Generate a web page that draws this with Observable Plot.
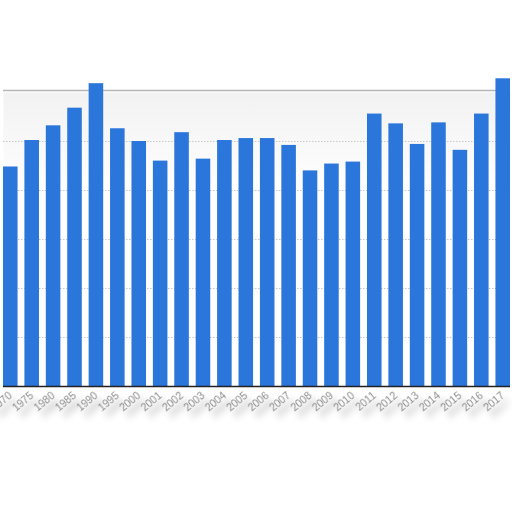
<!DOCTYPE html>
<html>
<head>
<meta charset="utf-8">
<script src="https://cdn.jsdelivr.net/npm/d3@7"></script>
<script src="https://cdn.jsdelivr.net/npm/@observablehq/plot@0.6"></script>
<style>
  html, body { margin: 0; padding: 0; background: #fff; }
  #chart svg { display: block; }
  #chart .xlab text { filter: drop-shadow(0px 9px 3px rgba(0,0,0,0.35)); }
</style>
</head>
<body>
<div id="chart"></div>
<script>
const years = ["1970","1975","1980","1985","1990","1995","2000","2001","2002","2003","2004","2005",
               "2006","2007","2008","2009","2010","2011","2012","2013","2014","2015","2016","2017"];
const values = [22.4, 25.1, 26.6, 28.4, 30.9, 26.3, 25.0, 23.0, 25.9, 23.2, 25.1, 25.3,
                25.3, 24.6, 22.0, 22.7, 22.9, 27.8, 26.8, 24.7, 26.9, 24.1, 27.8, 31.4];
const gridTicks = [5, 10, 15, 20, 25];
const topTick = [30];

const data = years.map((y, i) => ({year: y, value: values[i]}));

const plot = Plot.plot({
  width: 512,
  height: 512,
  marginTop: 92,
  marginBottom: 126,
  marginLeft: 3,
  marginRight: 2,
  style: {background: "transparent", fontFamily: "Arial, 'Liberation Sans', sans-serif"},
  x: {type: "band", domain: years, paddingInner: 0.32, paddingOuter: 0, round: false, axis: null, label: null},
  y: {domain: [0, 30], axis: null},
  marks: [
    Plot.frame({fill: "url(#topfade)", stroke: null}),
    Plot.ruleY(gridTicks, {stroke: "#c8c8c8", strokeDasharray: "1.5,1.5", strokeWidth: 1}),
    Plot.ruleY(topTick, {stroke: "#b5b5b5", strokeWidth: 1.6, dy: -2}),
    Plot.barY(data, {x: "year", y: "value", fill: "#2b76db"}),
    Plot.ruleY([0], {stroke: "#222", strokeWidth: 1.5}),
    Plot.axisX({
      className: "xlab",
      label: null,
      tickSize: 0,
      tickRotate: -40,
      tickPadding: 8,
      fill: "#8a8a8a",
      fontSize: 10.5
    })
  ]
});

const svg = d3.select(plot);
const defs = svg.insert("defs", ":first-child");
const g = defs.append("linearGradient").attr("id", "topfade").attr("x1", 0).attr("y1", 0).attr("x2", 0).attr("y2", 1);
g.append("stop").attr("offset", "0%").attr("stop-color", "#f2f2f2");
g.append("stop").attr("offset", "35%").attr("stop-color", "#ffffff");
g.append("stop").attr("offset", "100%").attr("stop-color", "#ffffff");

document.getElementById("chart").appendChild(plot);
</script>
</body>
</html>
